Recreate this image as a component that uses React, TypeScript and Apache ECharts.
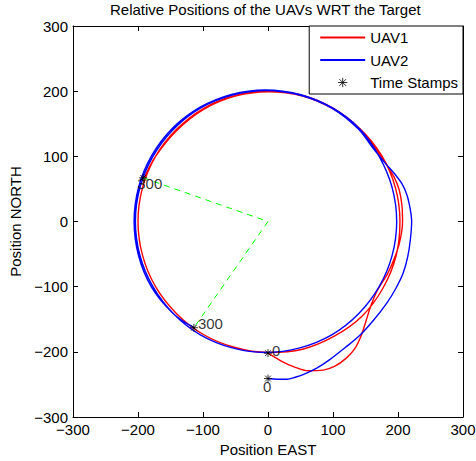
import React, { useEffect, useRef } from 'react';
import * as echarts from 'echarts';

// ---- data ----
const titleText = 'Relative Positions of the UAVs WRT the Target';
const xAxisName = 'Position EAST';
const yAxisName = 'Position NORTH';
const seriesNames = ['UAV1', 'UAV2', 'Time Stamps'];
const axisMin = -300;
const axisMax = 300;
const axisStep = 100;

// UAV1 (red): transient from the start, one lap, then partial lap
const uav1Path: [number, number][] = [
  [0, -202], [10, -208], [22, -215], [40, -223], [62, -229], [85, -228], [103, -222],
  [120, -210], [133, -196], [143, -176], [151, -152], [158, -130], [168, -106], [184, -80],
  [197, -50], [204, -25], [207, 0], [206, 25], [202, 48], [194, 68], [183, 86], [165, 112],
  [142, 142], [100, 174], [52, 194], [0, 200], [-52, 193], [-100, 173], [-141, 141],
  [-173, 100], [-193, 52], [-200, 0], [-193, -52], [-173, -100], [-141, -141], [-100, -173],
  [-52, -193], [0, -201], [53, -196], [102, -176], [145, -145], [177, -102], [197, -53],
  [203, 0], [196, 52], [175, 101], [142, 142], [100, 173], [52, 193], [0, 199], [-52, 192],
  [-99, 172], [-140, 140], [-173, 100], [-191, 66],
];

// UAV2 (blue): wider transient, laps, ends lower left
const uav2Path: [number, number][] = [
  [0, -241], [15, -242], [29, -242], [42, -239], [54, -235], [75, -225], [95, -212],
  [118, -194], [141, -175], [162, -152], [183, -125], [197, -102], [208, -79], [215, -54],
  [219, -28], [221, 0], [219, 18], [214, 40], [206, 58], [194, 74], [180, 90], [162, 112],
  [139, 142], [98, 174], [49, 194], [-3, 201], [-55, 194], [-104, 174], [-145, 142],
  [-177, 100], [-197, 52], [-204, 0], [-197, -52], [-177, -100], [-145, -142], [-104, -174],
  [-55, -194], [-3, -201], [49, -194], [98, -174], [139, -142], [171, -100], [191, -52],
  [198, 0], [191, 52], [171, 100], [140, 143], [98, 175], [49, 195], [-4, 202], [-56, 195],
  [-105, 175], [-147, 143], [-179, 101], [-199, 53], [-206, 0], [-199, -53], [-179, -101],
  [-146, -141], [-114, -163],
];

// Green dashed guide lines: end of UAV1 -> target -> end of UAV2
const guidePath: [number, number][] = [[-192, 67], [0, 0], [-114, -163]];

// Time stamp markers and their texts
const stampPoints: [number, number][] = [[0, -202], [0, -241], [-192, 67], [-114, -163]];
const stampTexts = ['0', '0', '300', '300'];

// ---- styles ----
const RED = '#ff0000';
const BLUE = '#0000ff';
const stampLabelOffsets: [number, number][] = [[4, -3], [-5, 8], [-6, 6], [4, -4]];
const FONT = '"Liberation Sans", Arial, Helvetica, sans-serif';
const STAR = 'path://M-6 -6M6 6M0 -4L0 4M-4 0L4 0M-2.9 -2.9L2.9 2.9M-2.9 2.9L2.9 -2.9';
const fmt = (v: number) => (v < 0 ? '\u2212' + Math.abs(v) : String(v));

export default function App() {
  const ref = useRef<HTMLDivElement>(null);
  useEffect(() => {
    if (!ref.current) return;
    const chart = echarts.init(ref.current, undefined, { renderer: 'svg' });
    const axisCommon: any = {
      type: 'value',
      min: axisMin,
      max: axisMax,
      interval: axisStep,
      axisLine: { show: true, onZero: false, lineStyle: { color: '#000', width: 1 } },
      axisTick: { show: true, inside: true, length: 5, lineStyle: { color: '#000', width: 1 } },
      splitLine: { show: false },
      minorTick: { show: false },
    };
    const labelStyle = {
      fontSize: 15,
      color: '#000',
      fontFamily: FONT,
      showMinLabel: true,
      showMaxLabel: true,
      hideOverlap: false,
      formatter: fmt,
    };
    const pathLine = (name: string, data: [number, number][], color: string, z: number) => ({
      name,
      type: 'line',
      xAxisIndex: 0,
      yAxisIndex: 0,
      data,
      symbol: 'none',
      smooth: 0.33,
      color,
      lineStyle: { color, width: 1.4 },
      itemStyle: { color },
      silent: true,
      z,
    });
    chart.setOption({
      animation: false,
      backgroundColor: '#fff',
      title: {
        text: titleText,
        left: 110,
        top: 2,
        padding: 0,
        textStyle: { fontSize: 15, fontWeight: 'normal', color: '#000', fontFamily: FONT },
      },
      grid: { left: 73, right: 13, top: 26, bottom: 44, containLabel: false, outerBoundsMode: 'none' },
      legend: {
        orient: 'vertical',
        right: 13,
        top: 26,
        itemWidth: 45,
        itemHeight: 14,
        itemGap: 7.5,
        padding: [4, 5, 4, 10],
        borderColor: '#000',
        borderWidth: 1,
        borderRadius: 0,
        backgroundColor: '#fff',
        selectedMode: false,
        textStyle: { fontSize: 15, color: '#000', fontFamily: FONT, lineHeight: 14 },
        data: [
          { name: seriesNames[0], itemStyle: { opacity: 0 } },
          { name: seriesNames[1], itemStyle: { opacity: 0 } },
          { name: seriesNames[2], itemStyle: { borderWidth: 1, borderColor: '#000', color: '#000' } },
        ],
      },
      xAxis: [
        {
          ...axisCommon,
          position: 'bottom',
          name: xAxisName,
          nameLocation: 'middle',
          nameGap: 24,
          nameTextStyle: { fontSize: 15, color: '#000', fontFamily: FONT },
          axisLabel: { ...labelStyle, margin: 5 },
        },
        { ...axisCommon, position: 'top', axisLabel: { show: false } },
      ],
      yAxis: [
        {
          ...axisCommon,
          position: 'left',
          name: yAxisName,
          nameLocation: 'middle',
          nameRotate: 90,
          nameGap: 48,
          nameTextStyle: { fontSize: 15, color: '#000', fontFamily: FONT },
          axisLabel: { ...labelStyle, margin: 5 },
        },
        { ...axisCommon, position: 'right', axisLabel: { show: false } },
      ],
      series: [
        pathLine(seriesNames[0], uav1Path, RED, 2),
        pathLine(seriesNames[1], uav2Path, BLUE, 3),
        {
          name: 'guide',
          type: 'line',
          xAxisIndex: 0,
          yAxisIndex: 0,
          data: guidePath,
          symbol: 'none',
          lineStyle: { color: '#00ff00', width: 1, type: [6, 5] },
          silent: true,
          z: 4,
        },
        {
          name: seriesNames[2],
          type: 'scatter',
          xAxisIndex: 0,
          yAxisIndex: 0,
          symbol: STAR,
          symbolSize: 12,
          itemStyle: { color: '#000', borderColor: '#000', borderWidth: 1 },
          silent: true,
          z: 5,
          data: stampPoints.map((p, i) => ({
            value: p,
            label: {
              show: true,
              formatter: stampTexts[i],
              position: 'inside',
              align: 'left',
              verticalAlign: 'middle',
              offset: stampLabelOffsets[i],
              fontSize: 15,
              color: '#000',
              fontFamily: FONT,
            },
          })),
        },
      ],
    });
    return () => chart.dispose();
  }, []);
  return (
    <div
      ref={ref}
      style={{ position: 'absolute', left: 0, top: 0, width: 476, height: 461, background: '#fff' }}
    />
  );
}
